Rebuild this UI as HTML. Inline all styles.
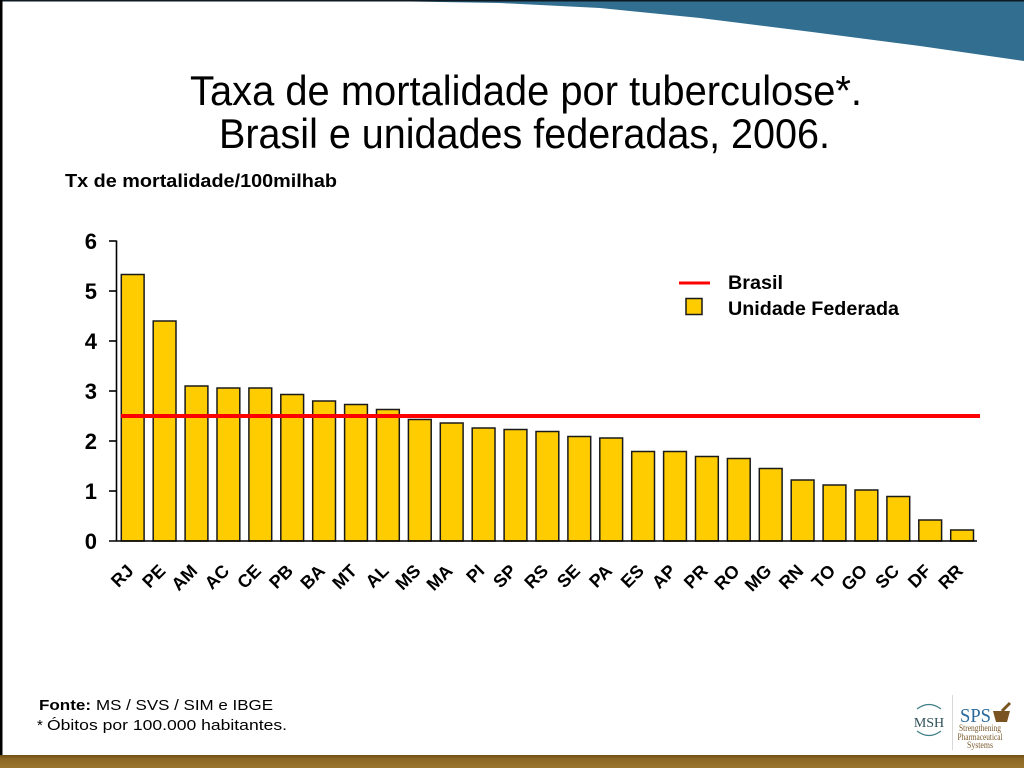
<!DOCTYPE html>
<html><head><meta charset="utf-8"><style>
html,body{margin:0;padding:0;background:#fff;}
svg{display:block;}
</style></head><body>
<svg width="1024" height="768" viewBox="0 0 1024 768" xmlns="http://www.w3.org/2000/svg" font-family="'Liberation Sans', Arial, sans-serif">
<defs>
<linearGradient id="brown" x1="0" y1="0" x2="0" y2="1">
<stop offset="0" stop-color="#6e4e18"/><stop offset="0.3" stop-color="#8c6624"/><stop offset="1" stop-color="#9b762e"/>
</linearGradient>
</defs>
<rect x="0" y="0" width="1024" height="768" fill="#fff"/>
<!-- top blue swoosh -->
<path d="M360,0 L380,1 L500,3 L600,8 L700,18 L812,32 L920,46 L1024,61 L1024,0 Z" fill="#316e90"/>
<rect x="0" y="0" width="1024" height="1.5" fill="#0d1a24"/>
<rect x="0" y="0" width="2.5" height="768" fill="#000"/>
<!-- bottom brown band -->
<rect x="0" y="755" width="1024" height="13" fill="url(#brown)"/>

<!-- title -->
<text x="190" y="105" font-size="42" textLength="672" lengthAdjust="spacingAndGlyphs" fill="#000">Taxa de mortalidade por tuberculose*.</text>
<text x="219" y="148" font-size="42" textLength="611" lengthAdjust="spacingAndGlyphs" fill="#000">Brasil e unidades federadas, 2006.</text>
<text x="65" y="187" font-size="18" font-weight="bold" textLength="272" lengthAdjust="spacingAndGlyphs" fill="#000">Tx de mortalidade/100milhab</text>

<!-- bars -->
<g fill="#FFCC00" stroke="#1a1a1a" stroke-width="1.5">
<rect x="121.3" y="274.5" width="22.8" height="266.5"/>
<rect x="153.2" y="321" width="22.8" height="220"/>
<rect x="185.1" y="386" width="22.8" height="155"/>
<rect x="217.0" y="388" width="22.8" height="153"/>
<rect x="248.9" y="388" width="22.8" height="153"/>
<rect x="280.8" y="394.5" width="22.8" height="146.5"/>
<rect x="312.7" y="401" width="22.8" height="140"/>
<rect x="344.6" y="404.5" width="22.8" height="136.5"/>
<rect x="376.5" y="409.5" width="22.8" height="131.5"/>
<rect x="408.4" y="419.5" width="22.8" height="121.5"/>
<rect x="440.3" y="423" width="22.8" height="118"/>
<rect x="472.2" y="428" width="22.8" height="113"/>
<rect x="504.1" y="429.5" width="22.8" height="111.5"/>
<rect x="536.0" y="431.5" width="22.8" height="109.5"/>
<rect x="567.9" y="436.5" width="22.8" height="104.5"/>
<rect x="599.8" y="438" width="22.8" height="103"/>
<rect x="631.7" y="451.5" width="22.8" height="89.5"/>
<rect x="663.6" y="451.5" width="22.8" height="89.5"/>
<rect x="695.5" y="456.5" width="22.8" height="84.5"/>
<rect x="727.4" y="458.5" width="22.8" height="82.5"/>
<rect x="759.3" y="468.5" width="22.8" height="72.5"/>
<rect x="791.2" y="480" width="22.8" height="61"/>
<rect x="823.1" y="485" width="22.8" height="56"/>
<rect x="855.0" y="490" width="22.8" height="51"/>
<rect x="886.9" y="496.5" width="22.8" height="44.5"/>
<rect x="918.8" y="520" width="22.8" height="21"/>
<rect x="950.7" y="530" width="22.8" height="11"/>
</g>

<!-- Brasil line -->
<line x1="121" y1="416" x2="980" y2="416" stroke="#ff0000" stroke-width="4"/>

<!-- axes -->
<g stroke="#000" stroke-width="1.6" fill="none">
<line x1="116.5" y1="240.5" x2="116.5" y2="541"/>
<line x1="109" y1="541" x2="977" y2="541"/>
<line x1="109" y1="241" x2="116.5" y2="241"/>
<line x1="109" y1="291" x2="116.5" y2="291"/>
<line x1="109" y1="341" x2="116.5" y2="341"/>
<line x1="109" y1="391" x2="116.5" y2="391"/>
<line x1="109" y1="441" x2="116.5" y2="441"/>
<line x1="109" y1="491" x2="116.5" y2="491"/>
</g>
<g font-size="22" font-weight="bold" text-anchor="end" fill="#000">
<text x="97" y="249">6</text>
<text x="97" y="299">5</text>
<text x="97" y="349">4</text>
<text x="97" y="399">3</text>
<text x="97" y="449">2</text>
<text x="97" y="499">1</text>
<text x="97" y="549">0</text>
</g>

<!-- x labels -->
<g font-size="18" font-weight="bold" text-anchor="end" fill="#000">
<text x="134.7" y="572" transform="rotate(-45 134.7 572)">RJ</text>
<text x="166.6" y="572" transform="rotate(-45 166.6 572)">PE</text>
<text x="198.5" y="572" transform="rotate(-45 198.5 572)">AM</text>
<text x="230.4" y="572" transform="rotate(-45 230.4 572)">AC</text>
<text x="262.3" y="572" transform="rotate(-45 262.3 572)">CE</text>
<text x="294.2" y="572" transform="rotate(-45 294.2 572)">PB</text>
<text x="326.1" y="572" transform="rotate(-45 326.1 572)">BA</text>
<text x="358.0" y="572" transform="rotate(-45 358.0 572)">MT</text>
<text x="389.9" y="572" transform="rotate(-45 389.9 572)">AL</text>
<text x="421.8" y="572" transform="rotate(-45 421.8 572)">MS</text>
<text x="453.7" y="572" transform="rotate(-45 453.7 572)">MA</text>
<text x="485.6" y="572" transform="rotate(-45 485.6 572)">PI</text>
<text x="517.5" y="572" transform="rotate(-45 517.5 572)">SP</text>
<text x="549.4" y="572" transform="rotate(-45 549.4 572)">RS</text>
<text x="581.3" y="572" transform="rotate(-45 581.3 572)">SE</text>
<text x="613.2" y="572" transform="rotate(-45 613.2 572)">PA</text>
<text x="645.1" y="572" transform="rotate(-45 645.1 572)">ES</text>
<text x="677.0" y="572" transform="rotate(-45 677.0 572)">AP</text>
<text x="708.9" y="572" transform="rotate(-45 708.9 572)">PR</text>
<text x="740.8" y="572" transform="rotate(-45 740.8 572)">RO</text>
<text x="772.7" y="572" transform="rotate(-45 772.7 572)">MG</text>
<text x="804.6" y="572" transform="rotate(-45 804.6 572)">RN</text>
<text x="836.5" y="572" transform="rotate(-45 836.5 572)">TO</text>
<text x="868.4" y="572" transform="rotate(-45 868.4 572)">GO</text>
<text x="900.3" y="572" transform="rotate(-45 900.3 572)">SC</text>
<text x="932.2" y="572" transform="rotate(-45 932.2 572)">DF</text>
<text x="964.1" y="572" transform="rotate(-45 964.1 572)">RR</text>
</g>

<!-- legend -->
<line x1="679" y1="283" x2="710" y2="283" stroke="#ff0000" stroke-width="3"/>
<rect x="686" y="298.5" width="16" height="16" fill="#FFCC00" stroke="#1a1a1a" stroke-width="1.5"/>
<text x="728" y="289" font-size="19" font-weight="bold" textLength="55" lengthAdjust="spacingAndGlyphs" fill="#000">Brasil</text>
<text x="728" y="315" font-size="19" font-weight="bold" textLength="171" lengthAdjust="spacingAndGlyphs" fill="#000">Unidade Federada</text>

<!-- footer -->
<text x="39" y="710" font-size="15" font-weight="bold" textLength="52" lengthAdjust="spacingAndGlyphs" fill="#000">Fonte:</text>
<text x="96" y="710" font-size="15" textLength="177" lengthAdjust="spacingAndGlyphs" fill="#000">MS / SVS / SIM e IBGE</text>
<text x="37" y="730" font-size="15" fill="#000">*</text>
<text x="47" y="730" font-size="15" textLength="240" lengthAdjust="spacingAndGlyphs" fill="#000">Óbitos por 100.000 habitantes.</text>

<!-- logos -->
<path d="M917,709 Q929,700 941,709" stroke="#3f7f86" stroke-width="1.2" fill="none"/>
<path d="M917,731 Q929,740 941,731" stroke="#3f7f86" stroke-width="1.2" fill="none"/>
<text x="929" y="727" font-size="14" text-anchor="middle" font-family="'Liberation Serif', serif" fill="#2f4f58">MSH</text>
<line x1="952.5" y1="695" x2="952.5" y2="750" stroke="#d8d8d8" stroke-width="1"/>
<text x="960" y="722" font-size="20" font-family="'Liberation Serif', serif" fill="#2a6a9c" textLength="31" lengthAdjust="spacingAndGlyphs">SPS</text>
<path d="M993,711 L1010,711 L1007,722 L996,722 Z" fill="#7a5420"/>
<line x1="1002" y1="711" x2="1010" y2="703" stroke="#7a5420" stroke-width="3"/>
<g font-family="'Liberation Serif', serif" font-size="9" fill="#7a5a2c" text-anchor="middle">
<text x="980" y="731" textLength="42" lengthAdjust="spacingAndGlyphs">Strengthening</text>
<text x="980" y="740" textLength="45" lengthAdjust="spacingAndGlyphs">Pharmaceutical</text>
<text x="980" y="748" textLength="26" lengthAdjust="spacingAndGlyphs">Systems</text>
</g>
</svg>
</body></html>
